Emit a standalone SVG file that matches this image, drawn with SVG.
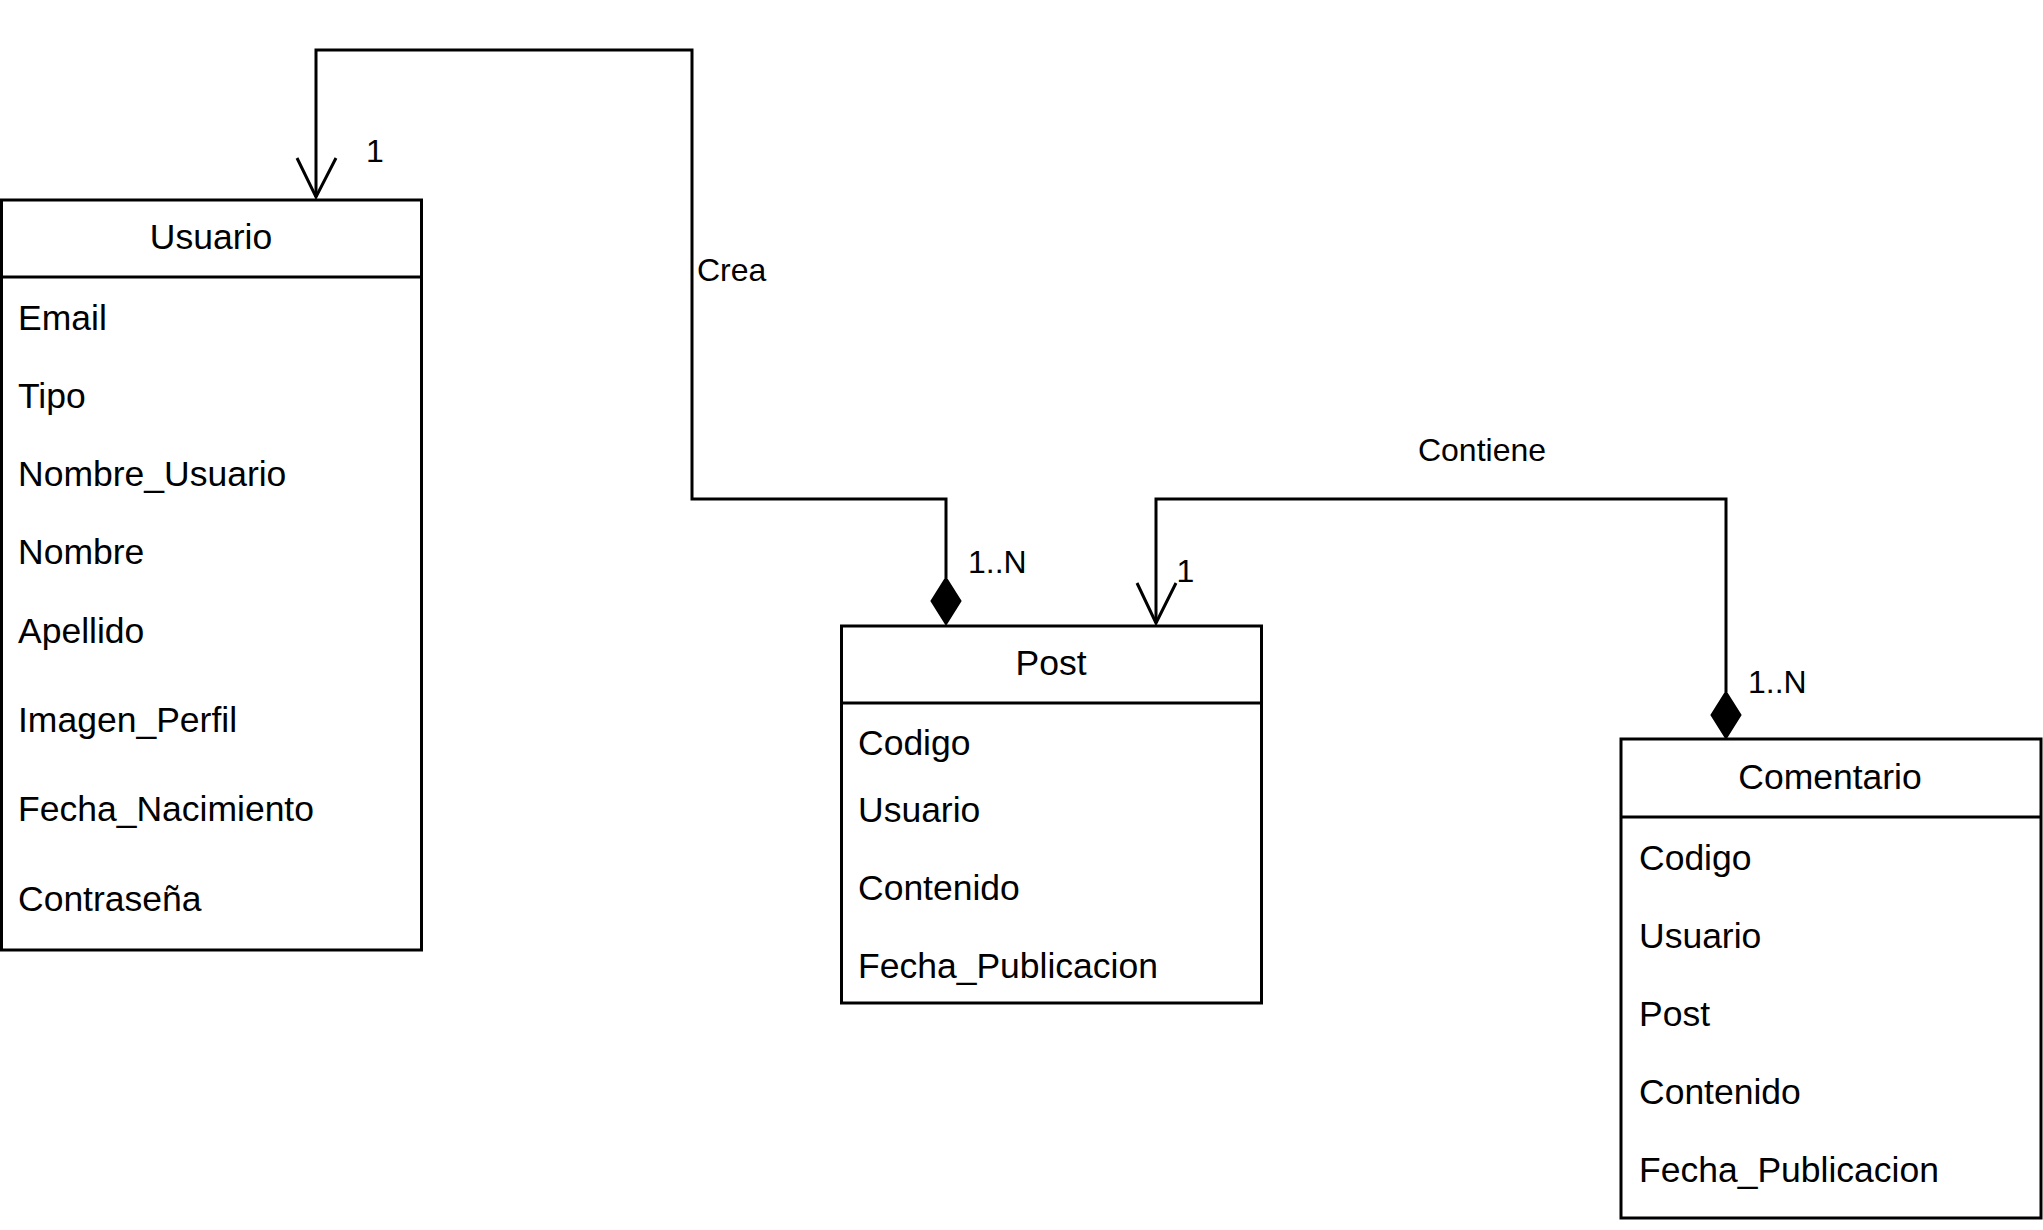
<svg xmlns="http://www.w3.org/2000/svg" width="2043" height="1230" viewBox="0 0 2043 1230">
<style>
.box{fill:#fff;stroke:#000;stroke-width:3}
.sep{stroke:#000;stroke-width:3}
.t{font-family:"Liberation Sans",Arial,sans-serif;font-size:35.5px;fill:#000}
.h{text-anchor:middle}
.lbl{font-family:"Liberation Sans",Arial,sans-serif;font-size:32px;fill:#000}
.edge{fill:none;stroke:#000;stroke-width:3}
.open{fill:none;stroke:#000;stroke-width:3}
.dia{fill:#000;stroke:#000;stroke-width:2}
</style>
<rect width="2043" height="1230" fill="#fff"/>
<g id="connectors">
  <g id="edge-crea">
    <path class="edge" d="M946,578 V499 H692 V50 H316 V197"/>
    <polyline class="open" points="297,158 316,197 336,158"/>
    <polygon class="dia" points="946,578 960.5,601 946,624 931.5,601"/>
    <text class="lbl" x="366" y="162">1</text>
    <text class="lbl" x="697" y="281">Crea</text>
    <text class="lbl" x="968" y="573">1..N</text>
  </g>
  <g id="edge-contiene">
    <path class="edge" d="M1726,692 V499 H1156 V623"/>
    <polyline class="open" points="1137,583 1156,623 1176,583"/>
    <polygon class="dia" points="1726,692 1740.5,715 1726,738 1711.5,715"/>
    <text class="lbl" x="1176.5" y="582">1</text>
    <text class="lbl h" x="1482" y="461">Contiene</text>
    <text class="lbl" x="1748" y="693">1..N</text>
  </g>
</g>
<g id="usuario">
  <rect class="box" x="1.5" y="200" width="420" height="750"/>
  <line class="sep" x1="1.5" y1="277" x2="421.5" y2="277"/>
  <text class="t h" x="211" y="249">Usuario</text>
  <text class="t" x="18" y="330">Email</text>
  <text class="t" x="18" y="408">Tipo</text>
  <text class="t" x="18" y="486">Nombre_Usuario</text>
  <text class="t" x="18" y="564">Nombre</text>
  <text class="t" x="18" y="643">Apellido</text>
  <text class="t" x="18" y="732">Imagen_Perfil</text>
  <text class="t" x="18" y="821">Fecha_Nacimiento</text>
  <text class="t" x="18" y="911">Contraseña</text>
</g>
<g id="post">
  <rect class="box" x="841.5" y="626" width="420" height="377"/>
  <line class="sep" x1="841.5" y1="703" x2="1261.5" y2="703"/>
  <text class="t h" x="1051" y="675">Post</text>
  <text class="t" x="858" y="755">Codigo</text>
  <text class="t" x="858" y="822">Usuario</text>
  <text class="t" x="858" y="900">Contenido</text>
  <text class="t" x="858" y="978">Fecha_Publicacion</text>
</g>
<g id="comentario">
  <rect class="box" x="1621" y="739" width="420" height="479"/>
  <line class="sep" x1="1621" y1="817" x2="2041" y2="817"/>
  <text class="t h" x="1830" y="789">Comentario</text>
  <text class="t" x="1639" y="870">Codigo</text>
  <text class="t" x="1639" y="948">Usuario</text>
  <text class="t" x="1639" y="1026">Post</text>
  <text class="t" x="1639" y="1104">Contenido</text>
  <text class="t" x="1639" y="1182">Fecha_Publicacion</text>
</g>
</svg>
